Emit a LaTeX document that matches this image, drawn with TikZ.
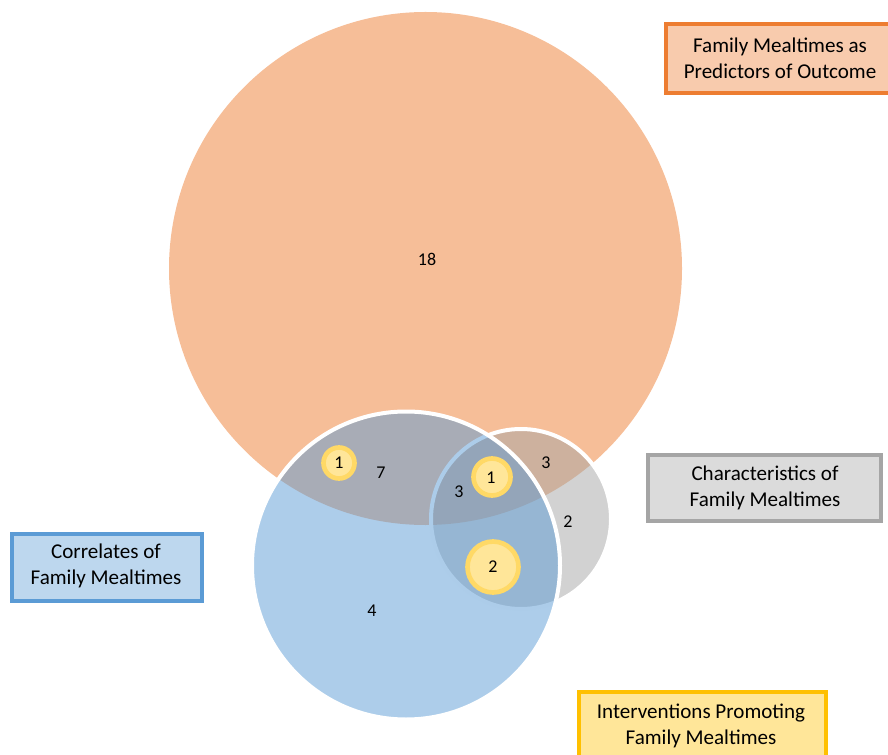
\documentclass[tikz,border=0pt]{standalone}
\usepackage{fontspec}
\setmainfont{Carlito}
\definecolor{oacc}{HTML}{ED7D31}
\definecolor{bacc}{HTML}{5B9BD5}
\definecolor{gacc}{HTML}{A5A5A5}
\definecolor{yring}{HTML}{FFD966}
\definecolor{yfill}{HTML}{FFE699}
\definecolor{obox}{HTML}{F8CBAD}
\definecolor{bbox}{HTML}{BDD7EE}
\definecolor{gbox}{HTML}{DBDBDB}
\definecolor{ybox}{HTML}{FFE699}
\definecolor{ybord}{HTML}{FFC000}
\begin{document}
\begin{tikzpicture}[x=0.75pt,y=-0.75pt,
  num/.style={font=\fontsize{13.5}{15}\selectfont, inner sep=0pt},
  lab/.style={font=\fontsize{15.8}{19.5}\selectfont, align=center, inner sep=0pt},
  ybub/.style={fill=yfill, draw=yring, line width=3.5pt},
  legbox/.style={line width=3pt}]
\useasboundingbox (0,0) rectangle (888,755);
\clip (0,0) rectangle (888,755);
% circles
\fill[oacc, fill opacity=0.5] (425.5,268.5) circle (256.5);
\filldraw[fill=gacc, fill opacity=0.5, draw=white, line width=3pt] (521,519) circle (90);
\filldraw[fill=bacc, fill opacity=0.5, draw=white, line width=3pt] (406,565.5) circle (154);
% yellow bubbles
\draw[ybub] (339,463) circle (15.5);
\draw[ybub] (492,477) circle (18.5);
\draw[ybub] (493,567) circle (25.5);
% numbers
\node[num] (n18) at (427,259) {18};
\node[num] (n1a) at (339,463) {1};
\node[num] (n7) at (381,473) {7};
\node[num] (n3a) at (459,492) {3};
\node[num] (n1b) at (491,478) {1};
\node[num] (n3b) at (546,463) {3};
\node[num] (n2a) at (568,522) {2};
\node[num] (n2b) at (493,567) {2};
\node[num] (n4) at (372,611) {4};
% legend boxes
\filldraw[legbox, fill=obox, draw=oacc] (666,24) rectangle (890,93);
\node[lab] (lo) at (780,58) {Family Mealtimes as\\Predictors of Outcome};
\filldraw[legbox, fill=gbox, draw=gacc] (648,455) rectangle (881,521);
\node[lab] (lg) at (765,488) {Characteristics of\\Family Mealtimes};
\filldraw[legbox, fill=bbox, draw=bacc] (12,534) rectangle (202,601);
\node[lab] (lb) at (106,566) {Correlates of\\Family Mealtimes};
\filldraw[legbox, fill=ybox, draw=ybord] (579,692) rectangle (826,760);
\node[lab] (ly) at (701,726) {Interventions Promoting\\Family Mealtimes};
\end{tikzpicture}
\end{document}
